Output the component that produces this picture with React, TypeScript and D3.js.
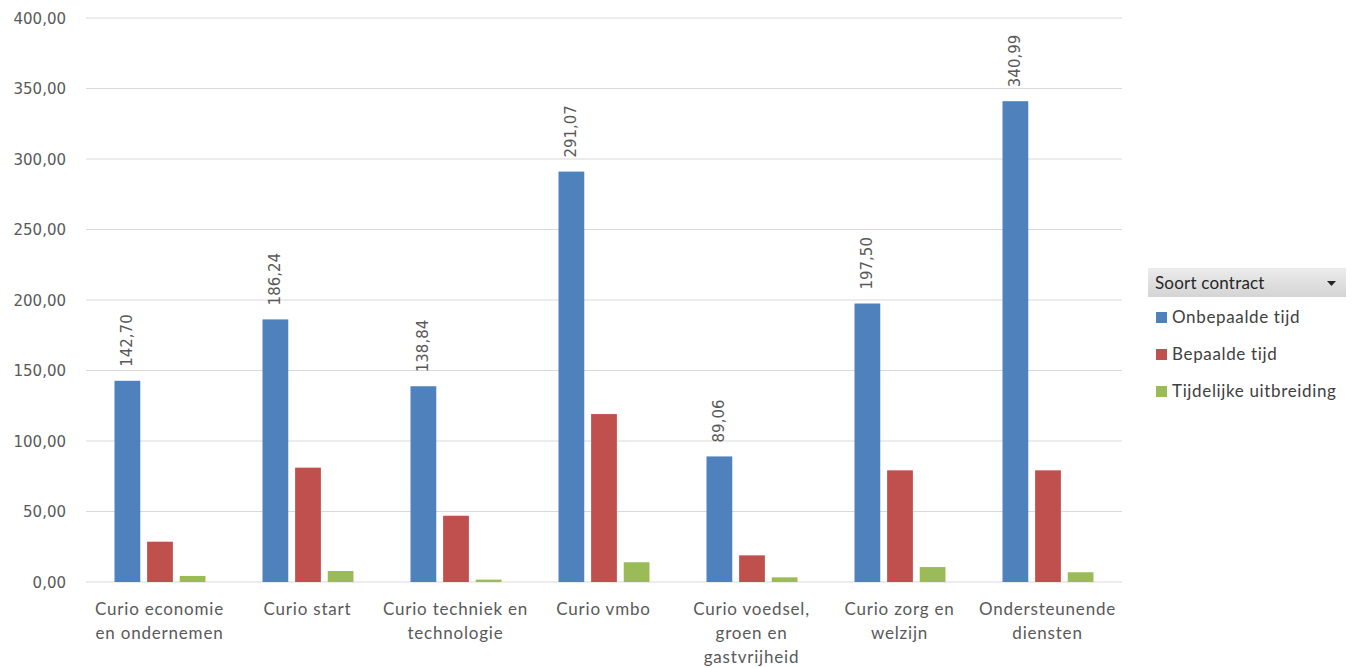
import React from "react";
import * as d3 from "d3";

const categories = [
  "Curio economie en ondernemen",
  "Curio start",
  "Curio techniek en technologie",
  "Curio vmbo",
  "Curio voedsel, groen en gastvrijheid",
  "Curio zorg en welzijn",
  "Ondersteunende diensten",
];
const categoryLines = [
  ["Curio economie", "en ondernemen"],
  ["Curio start"],
  ["Curio techniek en", "technologie"],
  ["Curio vmbo"],
  ["Curio voedsel,", "groen en", "gastvrijheid"],
  ["Curio zorg en", "welzijn"],
  ["Ondersteunende", "diensten"],
];
const seriesNames = ["Onbepaalde tijd", "Bepaalde tijd", "Tijdelijke uitbreiding"];
const onbepaalde = [142.7, 186.24, 138.84, 291.07, 89.06, 197.5, 340.99];
const bepaalde = [28.6, 81.1, 47.0, 119.1, 18.9, 79.2, 79.2];
const tijdelijk = [4.3, 7.8, 1.7, 14.0, 3.3, 10.6, 6.9];
const yTicks = [0, 50, 100, 150, 200, 250, 300, 350, 400];
const colors = ["#4f81bd", "#c0504d", "#9bbb59"];
const legendTitle = "Soort contract";

const fmt = (v: number) => v.toFixed(2).replace(".", ",");

export default function App() {
  const W = 1356, H = 668;
  const left = 86, right = 1122, top = 18, bottom = 582;
  const series = [onbepaalde, bepaalde, tijdelijk];
  const x = d3.scaleBand<string>().domain(categories).range([left, right]).padding(0);
  const inner = d3
    .scaleBand<number>()
    .domain([0, 1, 2])
    .range([-45.5, 45.5])
    .paddingInner(0.21)
    .paddingOuter(0);
  const y = d3.scaleLinear().domain([0, 400]).range([bottom, top]);
  const labelFont = "'DejaVu Sans', sans-serif";
  const catFont = "Lato, 'Open Sans', sans-serif";
  const textColor = "#595959";

  return (
    <svg
      width={W}
      height={H}
      style={{ position: "absolute", left: 0, top: 0, background: "#fff" }}
    >
      <defs>
        <linearGradient id="hdr" x1="0" y1="0" x2="0" y2="1">
          <stop offset="0" stopColor="#ececec" />
          <stop offset="1" stopColor="#d4d4d4" />
        </linearGradient>
      </defs>
      {yTicks.map((t) => (
        <g key={t}>
          <line x1={left} x2={right} y1={y(t)} y2={y(t)} stroke="#d9d9d9" strokeWidth={1.2} />
          <text
            x={66}
            y={y(t) + 5.5}
            textAnchor="end"
            fontFamily={labelFont}
            fontSize={15}
            fill={textColor}
          >
            {fmt(t)}
          </text>
        </g>
      ))}
      {categories.map((c, i) => {
        const cx = (x(c) as number) + x.bandwidth() / 2;
        return (
          <g key={c}>
            {series.map((s, k) => (
              <rect
                key={k}
                x={cx + (inner(k) as number)}
                y={y(s[i])}
                width={inner.bandwidth()}
                height={bottom - y(s[i])}
                fill={colors[k]}
              />
            ))}
            <text
              transform={`translate(${cx + (inner(0) as number) + inner.bandwidth() / 2 + 5},${
                y(onbepaalde[i]) - 14
              }) rotate(-90)`}
              fontFamily={labelFont}
              fontSize={15}
              fill={textColor}
            >
              {fmt(onbepaalde[i])}
            </text>
            {categoryLines[i].map((ln, j) => (
              <text
                key={j}
                x={cx - 0.5}
                y={615 + j * 24}
                textAnchor="middle"
                fontFamily={catFont}
                fontSize={17}
                letterSpacing={0.8}
                fill={textColor}
              >
                {ln}
              </text>
            ))}
          </g>
        );
      })}
      <g>
        <rect x={1148} y={268} width={198} height={29} fill="url(#hdr)" />
        <text x={1155} y={289} fontFamily={catFont} fontSize={17} letterSpacing={0.2} fill="#262626">
          {legendTitle}
        </text>
        <path d="M1327,281 L1336,281 L1331.5,286 Z" fill="#262626" />
        {seriesNames.map((n, k) => (
          <g key={n}>
            <rect x={1156} y={312 + k * 37} width={11} height={11} fill={colors[k]} />
            <text
              x={1172}
              y={323 + k * 37}
              fontFamily={catFont}
              fontSize={17}
              letterSpacing={0.65}
              fill="#404040"
            >
              {n}
            </text>
          </g>
        ))}
      </g>
    </svg>
  );
}
